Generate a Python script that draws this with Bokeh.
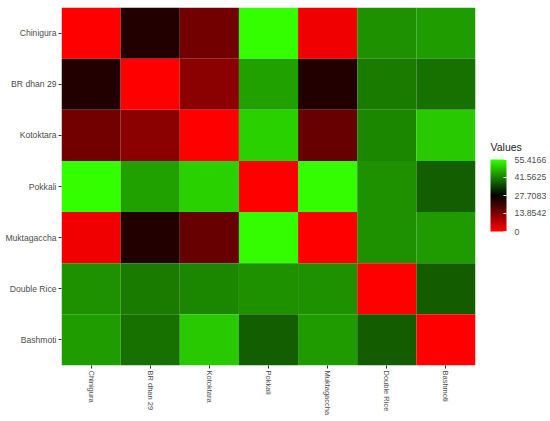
import numpy as np
from bokeh.plotting import figure
from bokeh.models import ColumnDataSource, LinearColorMapper, ColorBar, FixedTicker, PrintfTickFormatter, Label
from bokeh.embed import file_html
from bokeh.resources import INLINE

# ---- data ----
varieties = ["Chinigura", "BR dhan 29", "Kotoktara", "Pokkali",
             "Muktagaccha", "Double Rice", "Bashmoti"]
chinigura   = [0.0, 24.0, 15.2, 55.4166, 1.6, 43.4, 44.7]
br_dhan_29  = [24.0, 0.0, 12.7, 45.1, 24.0, 41.0, 39.9]
kotoktara   = [15.2, 12.7, 0.0, 50.3, 16.5, 42.3, 49.4]
pokkali     = [55.4166, 45.1, 50.3, 0.0, 55.2, 43.4, 38.0]
muktagaccha = [1.6, 24.0, 16.5, 55.2, 0.0, 43.4, 44.4]
double_rice = [43.4, 41.0, 42.3, 43.4, 43.4, 0.0, 37.7]
bashmoti    = [44.7, 39.9, 49.4, 38.0, 44.4, 37.7, 0.0]
rows = [chinigura, br_dhan_29, kotoktara, pokkali, muktagaccha, double_rice, bashmoti]
legend_ticks = [0, 13.8542, 27.7083, 41.5625, 55.4166]
legend_title = "Values"
value_low, value_high = 0.0, 55.4166

# ---- diverging palette red - black - green (linear in RGB) ----
def hex_rgb(h):
    return np.array([int(h[i:i + 2], 16) for i in (1, 3, 5)], dtype=float)

low_c, mid_c, high_c = hex_rgb("#ff0000"), hex_rgb("#000000"), hex_rgb("#33ff00")
palette = []
n = 256
for i in range(n):
    t = i / (n - 1)
    if t <= 0.5:
        c = low_c + (mid_c - low_c) * (t / 0.5)
    else:
        c = mid_c + (high_c - mid_c) * ((t - 0.5) / 0.5)
    c = np.clip(np.round(c), 0, 255).astype(int)
    palette.append("#%02x%02x%02x" % tuple(c))

mapper = LinearColorMapper(palette=palette, low=value_low, high=value_high)

xs, ys, vs = [], [], []
for rname, row in zip(varieties, rows):
    for cname, v in zip(varieties, row):
        xs.append(cname)
        ys.append(rname)
        vs.append(v)
source = ColumnDataSource(dict(x=xs, y=ys, v=vs))

p = figure(width=546, height=418, x_range=varieties, y_range=list(reversed(varieties)),
           output_backend="svg", toolbar_location=None,
           min_border_top=7, min_border_left=61, min_border_right=71, min_border_bottom=10)
p.rect(x="x", y="y", width=1, height=1, source=source,
       fill_color={"field": "v", "transform": mapper}, line_color=None)

p.grid.visible = False
p.outline_line_color = None
p.background_fill_color = "white"
p.border_fill_color = "white"
for ax in (p.xaxis[0], p.yaxis[0]):
    ax.axis_line_color = None
    ax.major_tick_line_color = "#333333"
    ax.major_tick_out = 3
    ax.major_tick_in = 0
    ax.minor_tick_line_color = None
    ax.major_label_text_font = "Liberation Sans"
    ax.major_label_text_color = "#4d4d4d"
    ax.major_label_standoff = 2
p.yaxis.major_label_text_font_size = "8.6px"
p.xaxis.major_label_text_font_size = "7.5px"
p.xaxis.major_label_orientation = "vertical"

cb = ColorBar(color_mapper=mapper, width=16, height=72,
              ticker=FixedTicker(ticks=legend_ticks),
              formatter=PrintfTickFormatter(format="%g"),
              major_label_text_font="Liberation Sans", major_label_text_font_size="8.8px",
              major_label_text_color="#4d4d4d", label_standoff=8,
              major_tick_line_color="white", major_tick_in=3, major_tick_out=0,
              bar_line_color=None, border_line_color=None, background_fill_color=None,
              padding=0, margin=0, location=(429, 134))
p.add_layout(cb, "center")

# legend title, in the right-hand side panel (pixels from that panel's bottom-left)
title_lbl = Label(x=15, y=219, x_units="screen", y_units="screen", text=legend_title,
                  text_font="Liberation Sans", text_font_size="10.5px", text_color="#222222",
                  text_align="left", text_baseline="alphabetic")
p.add_layout(title_lbl, "right")

open("out.html", "w").write(file_html(p, INLINE))
